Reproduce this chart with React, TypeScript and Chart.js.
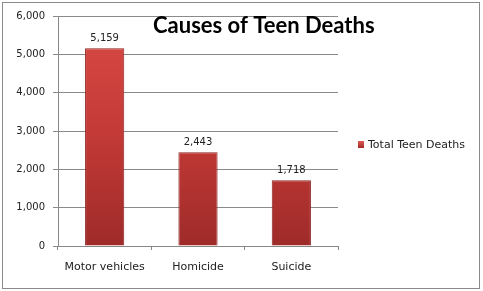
import React, { useEffect, useRef } from "react";
import { Chart, registerables } from "chart.js";
Chart.register(...registerables);

const categories = ["Motor vehicles", "Homicide", "Suicide"];
const deaths = [5159, 2443, 1718];
const seriesName = "Total Teen Deaths";
const chartTitle = "Causes of Teen Deaths";

const FONT = "'DejaVu Sans', sans-serif";

export default function App() {
  const ref = useRef<HTMLCanvasElement>(null);
  useEffect(() => {
    document.body.style.margin = "0";
    const canvas = ref.current!;
    const extras = {
      id: "extras",
      afterDraw(chart: any) {
        const c = chart.ctx;
        const meta = chart.getDatasetMeta(0);
        c.save();
        // values above bars
        c.font = `10px ${FONT}`;
        c.fillStyle = "#222";
        c.textAlign = "center";
        c.textBaseline = "bottom";
        meta.data.forEach((bar: any, i: number) => {
          c.fillText(deaths[i].toLocaleString("en-US"), bar.x, bar.y - 5);
        });
        // title
        c.font = `bold 22px Lato, sans-serif`;
        c.fillStyle = "#000";
        c.textAlign = "left";
        c.textBaseline = "middle";
        c.fillText(chartTitle, 153, 26);
        // legend
        const g = c.createLinearGradient(0, 141, 0, 148);
        g.addColorStop(0, "#e05a55");
        g.addColorStop(1, "#a02a28");
        c.fillStyle = g;
        c.fillRect(358, 141, 6, 7);
        c.font = `11px ${FONT}`;
        c.fillStyle = "#222";
        c.fillText(seriesName, 368, 145);
        // outer border
        c.strokeStyle = "#8a8a8a";
        c.lineWidth = 1;
        c.strokeRect(2.5, 2.5, 477, 286);
        c.restore();
      },
    };
    const chart = new Chart(canvas, {
      type: "bar",
      data: {
        labels: categories,
        datasets: [
          {
            label: seriesName,
            data: deaths,
            backgroundColor: (ctx: any) => {
              const ch = ctx.chart;
              const area = ch.chartArea;
              if (!area) return "#c0393b";
              const g = ch.ctx.createLinearGradient(0, area.top, 0, area.bottom);
              g.addColorStop(0, "#da4a45");
              g.addColorStop(0.5, "#c43a37");
              g.addColorStop(1, "#9e2b29");
              return g;
            },
            borderColor: "#8e2220",
            borderWidth: 1,
            barPercentage: 0.42,
            categoryPercentage: 1,
          },
        ],
      },
      options: {
        animation: false,
        responsive: false,
        devicePixelRatio: 1,
        layout: { padding: { left: 0, right: 145, top: 16, bottom: 0 } },
        plugins: { legend: { display: false }, title: { display: false }, tooltip: { enabled: false } },
        scales: {
          x: {
            grid: { offset: true, drawOnChartArea: false, tickLength: 4, color: "#888" },
            border: { display: true, color: "#888" },
            ticks: { font: { family: FONT, size: 11 }, color: "#222", padding: 11 },
            afterFit: (s: any) => { s.height = 45; },
          },
          y: {
            min: 0,
            max: 6000,
            ticks: { stepSize: 1000, font: { family: FONT, size: 10 }, color: "#222", padding: 8 },
            grid: { color: "#8a8a8a", tickLength: 5 },
            border: { display: true, color: "#888" },
            afterFit: (s: any) => { s.width = 58; },
          },
        },
      },
      plugins: [extras],
    });
    return () => chart.destroy();
  }, []);
  return <canvas ref={ref} width={483} height={291} style={{ display: "block" }} />;
}
